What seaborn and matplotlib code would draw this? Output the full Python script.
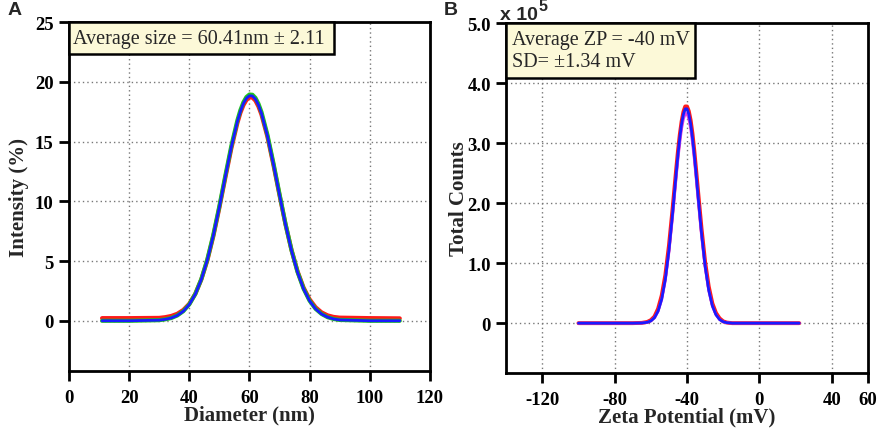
import matplotlib
matplotlib.use("Agg")
import matplotlib.pyplot as plt
from matplotlib.patches import Rectangle
import seaborn as sns
import pandas as pd

# ---------------- Data: panel A (size distribution) ----------------
a_x = [11, 20, 30, 32, 34, 36, 38, 40, 42, 44, 46, 48, 50, 52, 54, 56, 57, 58, 59, 60,
       61, 62, 63, 64, 66, 68, 70, 72, 74, 76, 78, 80, 82, 84, 86, 88, 90, 100, 110]
a_red = [0.22, 0.22, 0.24, 0.30, 0.40, 0.58, 0.90, 1.42, 2.25, 3.45, 5.05, 7.08,
         9.45, 11.98, 14.44, 16.55, 17.40, 18.04, 18.47, 18.70, 18.68, 18.42, 17.93,
         17.26, 15.38, 13.03, 10.52, 8.07, 5.92, 4.14, 2.78, 1.80, 1.13, 0.70, 0.45,
         0.32, 0.26, 0.22, 0.20]
a_green = [0.0, 0.0, 0.05, 0.12, 0.23, 0.44, 0.80, 1.37, 2.24, 3.48, 5.13, 7.19,
           9.58, 12.15, 14.64, 16.77, 17.62, 18.28, 18.72, 18.93, 18.91, 18.65, 18.16,
           17.47, 15.55, 13.17, 10.61, 8.11, 5.91, 4.09, 2.69, 1.68, 1.00, 0.57, 0.30,
           0.15, 0.07, 0.0, 0.0]
a_blue = [0.0, 0.0, 0.05, 0.12, 0.23, 0.44, 0.79, 1.36, 2.22, 3.45, 5.09, 7.14,
          9.52, 12.08, 14.56, 16.68, 17.52, 18.18, 18.62, 18.83, 18.81, 18.55, 18.06,
          17.37, 15.46, 13.09, 10.54, 8.06, 5.87, 4.06, 2.67, 1.67, 0.99, 0.56, 0.30,
          0.15, 0.07, 0.0, 0.0]

# ---------------- Data: panel B (zeta potential, x 10^5 counts) ----------------
b_x = [-100, -70, -65, -62, -60, -58, -56, -54, -52, -50, -48, -46, -45, -44, -43, -42,
       -41, -40, -39, -38, -37, -36, -35, -34, -32, -30, -28, -26, -24, -22, -20, -18,
       -15, 0, 22]
b_red = [0.0, 0.0, 0.005, 0.02, 0.05, 0.11, 0.24, 0.46, 0.80, 1.29, 1.90, 2.56,
         2.87, 3.14, 3.36, 3.52, 3.61, 3.61, 3.53, 3.38, 3.16, 2.88, 2.56, 2.23,
         1.58, 1.02, 0.61, 0.33, 0.17, 0.08, 0.03, 0.01, 0.0, 0.0, 0.0]
b_blue = [0.0, 0.0, 0.003, 0.014, 0.037, 0.09, 0.20, 0.40, 0.73, 1.21, 1.82, 2.49,
          2.81, 3.09, 3.32, 3.48, 3.57, 3.57, 3.48, 3.32, 3.09, 2.81, 2.49, 2.15,
          1.50, 0.95, 0.55, 0.29, 0.14, 0.06, 0.023, 0.008, 0.0, 0.0, 0.0]
b_magenta = [0.0, 0.0, 0.003, 0.013, 0.036, 0.088, 0.195, 0.39, 0.71, 1.18, 1.77,
             2.43, 2.74, 3.01, 3.24, 3.40, 3.49, 3.49, 3.40, 3.24, 3.01, 2.74, 2.43,
             2.10, 1.46, 0.93, 0.54, 0.28, 0.14, 0.06, 0.022, 0.008, 0.0, 0.0, 0.0]

a_xticks = [0, 20, 40, 60, 80, 100, 120]
a_yticks = [0, 5, 10, 15, 20, 25]
b_xticks = [-120, -80, -40, 0, 40, 60]
b_xticklabels = ["-120", "-80", "-40", "0", "40", "60"]
b_yticks = [0, 1, 2, 3, 4, 5]
b_yticklabels = ["0", "1.0", "2.0", "3.0", "4.0", "5.0"]

a_text = "Average size = 60.41nm \u00b1 2.11"
b_text = "Average ZP = -40 mV\nSD= \u00b11.34 mV"

# ---------------- Style ----------------
sns.set_style("ticks")
plt.rcParams["font.family"] = ["Liberation Serif", "DejaVu Serif"]
plt.rcParams["axes.unicode_minus"] = False

fig = plt.figure(figsize=(8.79, 4.31), dpi=100)
axA = fig.add_axes([0.0785, 0.137, 0.4105, 0.8096])
axB = fig.add_axes([0.5757, 0.1323, 0.4118, 0.8120])

box_color = "#fcf9d8"
grid_kw = dict(color="#777777", linestyle=(0, (1, 2.2)), linewidth=1.0)


def style_axes(ax):
    for s in ax.spines.values():
        s.set_linewidth(2.0)
        s.set_color("black")
    ax.tick_params(axis="both", direction="out", length=7, width=2.0,
                   labelsize=13.5, colors="black", pad=4)
    ax.tick_params(axis="x", pad=6)
    for lab in ax.get_xticklabels() + ax.get_yticklabels():
        lab.set_fontweight("bold")


# Panel A
dfA = pd.DataFrame({"x": a_x, "red": a_red, "green": a_green, "blue": a_blue})
sns.lineplot(data=dfA, x="x", y="red", ax=axA, color="#ff1a1a", linewidth=3.0)
sns.lineplot(data=dfA, x="x", y="green", ax=axA, color="#1fc21f", linewidth=3.0)
sns.lineplot(data=dfA, x="x", y="blue", ax=axA, color="#1a1aff", linewidth=2.0)
axA.set_xlim(0, 120)
axA.set_ylim(-4.2, 25)
axA.set_xticks(a_xticks)
axA.set_xticklabels([str(v) for v in a_xticks])
axA.set_yticks(a_yticks)
axA.set_yticklabels([str(v) for v in a_yticks])
for v in a_xticks[1:-1]:
    axA.axvline(v, zorder=0, **grid_kw)
for v in a_yticks[:-1]:
    axA.axhline(v, zorder=0, **grid_kw)
axA.set_xlabel("Diameter (nm)", fontsize=15, fontweight="bold", labelpad=-1)
axA.set_ylabel("Intensity (%)", fontsize=15, fontweight="bold", labelpad=4)
style_axes(axA)
axA.add_patch(Rectangle((0.0, 0.908), 0.734, 0.092, transform=axA.transAxes,
                        facecolor=box_color, edgecolor="black", linewidth=1.8,
                        zorder=5, clip_on=False))
axA.text(0.36, 0.954, a_text, transform=axA.transAxes, ha="center", va="center",
         fontsize=14.5, zorder=6)

# Panel B
dfB = pd.DataFrame({"x": b_x, "red": b_red, "blue": b_blue, "magenta": b_magenta})
sns.lineplot(data=dfB, x="x", y="red", ax=axB, color="#ff1a1a", linewidth=2.8)
sns.lineplot(data=dfB, x="x", y="magenta", ax=axB, color="#e040e0", linewidth=2.0)
sns.lineplot(data=dfB, x="x", y="blue", ax=axB, color="#1a1aff", linewidth=2.0)
axB.set_xlim(-140, 60)
axB.set_ylim(-0.83, 5.0)
axB.set_xticks(b_xticks)
axB.set_xticklabels(b_xticklabels)
axB.set_yticks(b_yticks)
axB.set_yticklabels(b_yticklabels)
for v in b_xticks[:-1]:
    axB.axvline(v, zorder=0, **grid_kw)
for v in b_yticks[:-1]:
    axB.axhline(v, zorder=0, **grid_kw)
axB.set_xlabel("Zeta Potential (mV)", fontsize=15, fontweight="bold", labelpad=-1)
axB.set_ylabel("Total Counts", fontsize=15, fontweight="bold", labelpad=-1)
style_axes(axB)
axB.add_patch(Rectangle((0.0, 0.843), 0.522, 0.157, transform=axB.transAxes,
                        facecolor=box_color, edgecolor="black", linewidth=1.8,
                        zorder=5, clip_on=False))
axB.text(0.017, 0.921, b_text, transform=axB.transAxes, ha="left", va="center",
         fontsize=14.5, linespacing=1.2, zorder=6)

# Annotations
fig.text(500 / 879, 1 - 19.5 / 431, "x 10", fontsize=14, fontweight="bold",
         family="Liberation Sans", ha="left", va="baseline")
fig.text(539 / 879, 1 - 11 / 431, "5", fontsize=11.5, fontweight="bold",
         family="Liberation Sans", ha="left", va="baseline")
fig.text(0.008, 0.975, "A", fontsize=14, fontweight="bold", family="Liberation Sans",
         ha="left", va="center")
fig.text(0.505, 0.975, "B", fontsize=14, fontweight="bold", family="Liberation Sans",
         ha="left", va="center")

fig.savefig("out.png", dpi=100)
